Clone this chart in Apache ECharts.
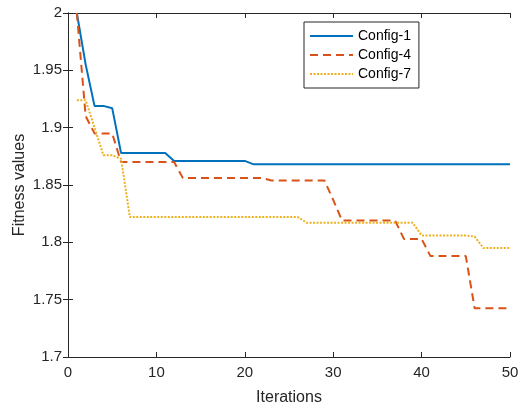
<!DOCTYPE html>
<html>
<head>
<meta charset="utf-8">
<script src="https://cdn.jsdelivr.net/npm/echarts@6/dist/echarts.min.js"></script>
<style>
  html, body { margin: 0; padding: 0; background: #fff; }
  #chart { width: 518px; height: 410px; }
</style>
</head>
<body>
<div id="chart"></div>
<script>
const iterations = [1, 2, 3, 4, 5, 6, 7, 8, 9, 10, 11, 12, 13, 14, 15, 16, 17, 18, 19, 20,
  21, 22, 23, 24, 25, 26, 27, 28, 29, 30, 31, 32, 33, 34, 35, 36, 37, 38, 39, 40,
  41, 42, 43, 44, 45, 46, 47, 48, 49, 50]

const config1 = [2.0, 1.955, 1.919, 1.919, 1.917, 1.878, 1.878, 1.878, 1.878, 1.878,
  1.878, 1.871, 1.871, 1.871, 1.871, 1.871, 1.871, 1.871, 1.871, 1.871,
  1.868, 1.868, 1.868, 1.868, 1.868, 1.868, 1.868, 1.868, 1.868, 1.868,
  1.868, 1.868, 1.868, 1.868, 1.868, 1.868, 1.868, 1.868, 1.868, 1.868,
  1.868, 1.868, 1.868, 1.868, 1.868, 1.868, 1.868, 1.868, 1.868, 1.868]

const config4 = [2.0, 1.91, 1.895, 1.895, 1.895, 1.870, 1.870, 1.870, 1.870, 1.870,
  1.870, 1.870, 1.856, 1.856, 1.856, 1.856, 1.856, 1.856, 1.856, 1.856,
  1.856, 1.856, 1.854, 1.854, 1.854, 1.854, 1.854, 1.854, 1.854, 1.837,
  1.819, 1.819, 1.819, 1.819, 1.819, 1.819, 1.819, 1.803, 1.803, 1.803,
  1.788, 1.788, 1.788, 1.788, 1.788, 1.7425, 1.7425, 1.7425, 1.7425, 1.7425]

const config7 = [1.924, 1.924, 1.900, 1.876, 1.876, 1.873, 1.822, 1.822, 1.822, 1.822,
  1.822, 1.822, 1.822, 1.822, 1.822, 1.822, 1.822, 1.822, 1.822, 1.822,
  1.822, 1.822, 1.822, 1.822, 1.822, 1.822, 1.817, 1.817, 1.817, 1.817,
  1.817, 1.817, 1.817, 1.817, 1.817, 1.817, 1.817, 1.817, 1.817, 1.806,
  1.806, 1.806, 1.806, 1.806, 1.806, 1.805, 1.795, 1.795, 1.795, 1.795]

const xTicks = [0, 10, 20, 30, 40, 50]
const yTicks = ['1.7', '1.75', '1.8', '1.85', '1.9', '1.95', '2']

const font = 'Arial, "Liberation Sans", Helvetica, sans-serif'
const axisColor = '#262626'

const pairs = vals => iterations.map((it, i) => [it, vals[i]])

const chart = echarts.init(document.getElementById('chart'))

const baseX = {
  type: 'value', min: xTicks[0], max: xTicks[xTicks.length - 1], interval: 10,
  axisLine: { show: true, lineStyle: { color: axisColor, width: 1 } },
  axisTick: { show: true, inside: true, length: 5, lineStyle: { color: axisColor } },
  splitLine: { show: false }
}
const baseY = {
  type: 'value', min: 1.7, max: 2, interval: 0.05,
  axisLine: { show: true, lineStyle: { color: axisColor, width: 1 } },
  axisTick: { show: true, inside: true, length: 5, lineStyle: { color: axisColor } },
  splitLine: { show: false }
}

chart.setOption({
  animation: false,
  backgroundColor: '#fff',
  grid: { left: 68, right: 8, top: 13, bottom: 53, outerBoundsMode: 'none' },
  legend: {
    orient: 'vertical',
    left: 304, top: 22,
    padding: [7, 8, 7, 5],
    itemWidth: 43, itemHeight: 14, itemGap: 5,
    backgroundColor: '#fff',
    borderColor: axisColor, borderWidth: 1,
    itemStyle: { opacity: 0 },
    textStyle: { fontFamily: font, fontSize: 14, color: '#000' },
    data: ['Config-1', 'Config-4', 'Config-7']
  },
  xAxis: [
    Object.assign({}, baseX, {
      position: 'bottom',
      name: 'Iterations', nameLocation: 'middle', nameGap: 33, nameMoveOverlap: false,
      nameTextStyle: { fontFamily: font, fontSize: 16, color: axisColor },
      axisLabel: { fontFamily: font, fontSize: 15, color: axisColor, margin: 8 }
    }),
    Object.assign({}, baseX, { position: 'top', axisLabel: { show: false } })
  ],
  yAxis: [
    Object.assign({}, baseY, {
      position: 'left',
      name: 'Fitness values', nameLocation: 'middle', nameGap: 40, nameMoveOverlap: false,
      nameTextStyle: { fontFamily: font, fontSize: 16, color: axisColor },
      axisLabel: {
        fontFamily: font, fontSize: 15, color: axisColor, margin: 6,
        formatter: v => yTicks[Math.round((v - 1.7) / 0.05)]
      }
    }),
    Object.assign({}, baseY, { position: 'right', axisLabel: { show: false } })
  ],
  series: [
    {
      name: 'Config-1', type: 'line', data: pairs(config1),
      showSymbol: false, symbol: 'none',
      color: '#0072BD',
      lineStyle: { color: '#0072BD', width: 2 }
    },
    {
      name: 'Config-4', type: 'line', data: pairs(config4),
      showSymbol: false, symbol: 'none',
      color: '#D95319',
      lineStyle: { color: '#D95319', width: 2, type: [8, 5] }
    },
    {
      name: 'Config-7', type: 'line', data: pairs(config7),
      showSymbol: false, symbol: 'none',
      color: '#EDB120',
      lineStyle: { color: '#EDB120', width: 2, type: [2, 1.5] }
    }
  ]
})
</script>
</body>
</html>
